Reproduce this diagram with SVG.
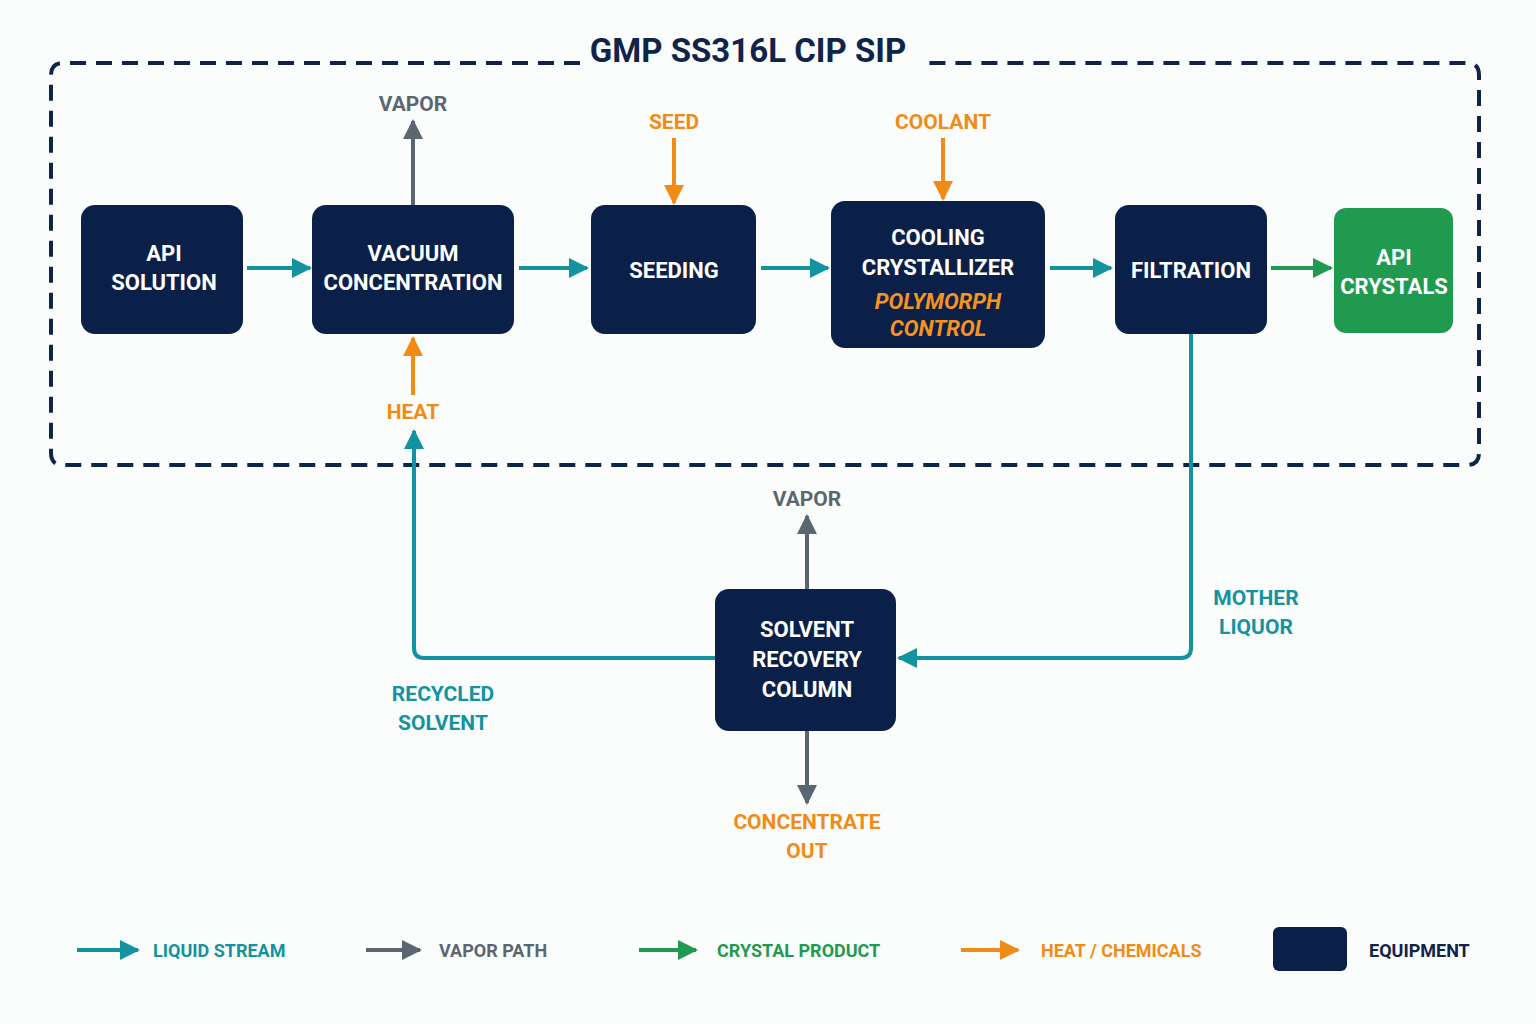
<svg xmlns="http://www.w3.org/2000/svg" width="1536" height="1024" viewBox="0 0 1536 1024">
<style>
.node{fill:#0b2048}
.nt{font-family:Roboto,"Liberation Sans",sans-serif;font-weight:700;font-size:22px;fill:#ffffff;text-anchor:middle}
.lbl{font-family:Roboto,"Liberation Sans",sans-serif;font-weight:700;font-size:21px;text-anchor:middle}
.leg{font-family:Roboto,"Liberation Sans",sans-serif;font-weight:700;font-size:18px}
.teal{stroke:#12939f;fill:none;stroke-width:4}
.gray{stroke:#5b6670;fill:none;stroke-width:4}
.orng{stroke:#f08c16;fill:none;stroke-width:4}
.grn{stroke:#1f9a4f;fill:none;stroke-width:4}
</style>
<defs>
<marker id="aT" viewBox="0 0 10 10" refX="9" refY="5" markerWidth="5" markerHeight="5" orient="auto" markerUnits="strokeWidth"><path d="M0,0 L10,5 L0,10 Z" fill="#12939f"/></marker>
<marker id="aG" viewBox="0 0 10 10" refX="9" refY="5" markerWidth="5" markerHeight="5" orient="auto" markerUnits="strokeWidth"><path d="M0,0 L10,5 L0,10 Z" fill="#5b6670"/></marker>
<marker id="aO" viewBox="0 0 10 10" refX="9" refY="5" markerWidth="5" markerHeight="5" orient="auto" markerUnits="strokeWidth"><path d="M0,0 L10,5 L0,10 Z" fill="#f08c16"/></marker>
<marker id="aN" viewBox="0 0 10 10" refX="9" refY="5" markerWidth="5" markerHeight="5" orient="auto" markerUnits="strokeWidth"><path d="M0,0 L10,5 L0,10 Z" fill="#1f9a4f"/></marker>
</defs>
<rect width="1536" height="1024" fill="#fbfcfc"/>

<g id="boundary">
<path d="M580,63 L63,63 Q51,63 51,75 L51,453 Q51,465 63,465 L1467,465 Q1479,465 1479,453 L1479,75 Q1479,63 1467,63 L920,63" fill="none" stroke="#0f2448" stroke-width="4" stroke-dasharray="16,10"/>
<text x="748" y="62" font-family="Roboto,'Liberation Sans',sans-serif" font-weight="700" font-size="33" fill="#0f2448" text-anchor="middle">GMP SS316L CIP SIP</text>
</g>

<g id="connectors">
<line class="teal" x1="247" y1="268" x2="310" y2="268" marker-end="url(#aT)"/>
<line class="teal" x1="519" y1="268" x2="587" y2="268" marker-end="url(#aT)"/>
<line class="teal" x1="761" y1="268" x2="828" y2="268" marker-end="url(#aT)"/>
<line class="teal" x1="1050" y1="268" x2="1111" y2="268" marker-end="url(#aT)"/>
<line class="grn" x1="1271" y1="268" x2="1331" y2="268" marker-end="url(#aN)"/>
<line class="gray" x1="413" y1="205" x2="413" y2="121" marker-end="url(#aG)"/>
<line class="orng" x1="413" y1="395" x2="413" y2="338" marker-end="url(#aO)"/>
<line class="orng" x1="674" y1="138" x2="674" y2="203" marker-end="url(#aO)"/>
<line class="orng" x1="943" y1="138" x2="943" y2="199" marker-end="url(#aO)"/>
<path class="teal" d="M1191,334 L1191,648 Q1191,658 1181,658 L899,658" marker-end="url(#aT)"/>
<path class="teal" d="M715,658 L424,658 Q414,658 414,648 L414,431" marker-end="url(#aT)"/>
<line class="gray" x1="807" y1="589" x2="807" y2="516" marker-end="url(#aG)"/>
<line class="gray" x1="807" y1="731" x2="807" y2="803" marker-end="url(#aG)"/>
</g>

<g id="api-solution">
<rect class="node" x="81" y="205" width="162" height="129" rx="14"/>
<text class="nt" x="164" y="261">API</text>
<text class="nt" x="164" y="290">SOLUTION</text>
</g>
<g id="vacuum-concentration">
<rect class="node" x="312" y="205" width="202" height="129" rx="14"/>
<text class="nt" x="413" y="261">VACUUM</text>
<text class="nt" x="413" y="290">CONCENTRATION</text>
</g>
<g id="seeding">
<rect class="node" x="591" y="205" width="165" height="129" rx="14"/>
<text class="nt" x="674" y="278">SEEDING</text>
</g>
<g id="cooling-crystallizer">
<rect class="node" x="831" y="201" width="214" height="147" rx="14"/>
<text class="nt" x="938" y="245">COOLING</text>
<text class="nt" x="938" y="275">CRYSTALLIZER</text>
<text class="nt" x="938" y="309" font-style="italic" style="fill:#f7941d">POLYMORPH</text>
<text class="nt" x="938" y="336" font-style="italic" style="fill:#f7941d">CONTROL</text>
</g>
<g id="filtration">
<rect class="node" x="1115" y="205" width="152" height="129" rx="14"/>
<text class="nt" x="1191" y="278">FILTRATION</text>
</g>
<g id="api-crystals">
<rect x="1334" y="208" width="119" height="125" rx="12" fill="#1f9a4f"/>
<text class="nt" x="1394" y="265">API</text>
<text class="nt" x="1394" y="294">CRYSTALS</text>
</g>
<g id="solvent-recovery-column">
<rect class="node" x="715" y="589" width="181" height="142" rx="14"/>
<text class="nt" x="807" y="637">SOLVENT</text>
<text class="nt" x="807" y="667">RECOVERY</text>
<text class="nt" x="807" y="697">COLUMN</text>
</g>

<g id="labels">
<text class="lbl" x="413" y="111" fill="#5b6670">VAPOR</text>
<text class="lbl" x="674" y="129" fill="#f08c16">SEED</text>
<text class="lbl" x="943" y="129" fill="#f08c16">COOLANT</text>
<text class="lbl" x="413" y="419" fill="#f08c16">HEAT</text>
<text class="lbl" x="807" y="506" fill="#5b6670">VAPOR</text>
<text class="lbl" x="1256" y="605" fill="#12939f">MOTHER</text>
<text class="lbl" x="1256" y="634" fill="#12939f">LIQUOR</text>
<text class="lbl" x="443" y="701" fill="#12939f">RECYCLED</text>
<text class="lbl" x="443" y="730" fill="#12939f">SOLVENT</text>
<text class="lbl" x="807" y="829" fill="#f08c16">CONCENTRATE</text>
<text class="lbl" x="807" y="858" fill="#f08c16">OUT</text>
</g>

<g id="legend">
<line class="teal" x1="77" y1="950" x2="138" y2="950" marker-end="url(#aT)"/>
<text class="leg" x="153" y="957" fill="#12939f">LIQUID STREAM</text>
<line class="gray" x1="366" y1="950" x2="420" y2="950" marker-end="url(#aG)"/>
<text class="leg" x="439" y="957" fill="#5b6670">VAPOR PATH</text>
<line class="grn" x1="639" y1="950" x2="696" y2="950" marker-end="url(#aN)"/>
<text class="leg" x="717" y="957" fill="#1f9a4f">CRYSTAL PRODUCT</text>
<line class="orng" x1="961" y1="950" x2="1018" y2="950" marker-end="url(#aO)"/>
<text class="leg" x="1041" y="957" fill="#f08c16">HEAT / CHEMICALS</text>
<rect class="node" x="1273" y="927" width="74" height="44" rx="6"/>
<text class="leg" x="1369" y="957" fill="#0f2448">EQUIPMENT</text>
</g>
</svg>
